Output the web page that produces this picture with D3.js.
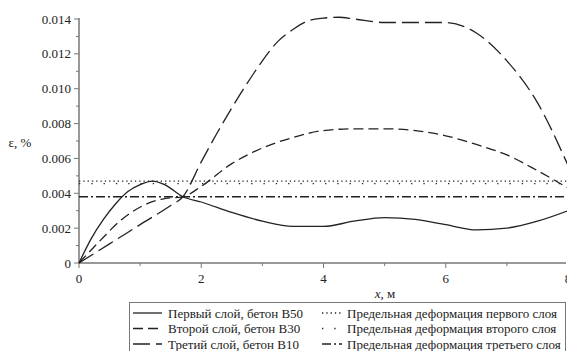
<!DOCTYPE html>
<html>
<head>
<meta charset="utf-8">
<script src="https://cdn.jsdelivr.net/npm/d3@7"></script>
<style>
  body { margin: 0; background: #fff; }
  svg text { font-family: 'Liberation Serif', 'DejaVu Serif', serif; }
</style>
</head>
<body>
<svg id="chart" width="567" height="351"></svg>
<script>
// x, м
var xFirst = [0, 0.2, 0.4, 0.6, 0.8, 1.0, 1.2, 1.4, 1.7, 2.0, 2.5, 3.0, 3.5, 4.0, 4.5, 5.0, 5.5, 6.0, 6.5, 7.0, 7.5, 8.0];
var yFirst = [0, 0.0014, 0.0025, 0.0034, 0.0041, 0.0045, 0.0047, 0.0045, 0.0038, 0.0035, 0.0029, 0.0024, 0.0021, 0.0021, 0.0024, 0.0026, 0.0025, 0.0022, 0.0019, 0.0020, 0.0024, 0.0030];

var xSecond = [0, 0.35, 0.7, 1.05, 1.4, 1.7, 2.0, 2.5, 3.0, 3.5, 4.0, 4.5, 5.0, 5.5, 6.0, 6.5, 7.0, 7.5, 8.0];
var ySecond = [0, 0.0013, 0.0025, 0.0033, 0.0037, 0.0038, 0.0044, 0.0057, 0.0066, 0.0072, 0.0076, 0.0077, 0.0077, 0.0076, 0.0073, 0.0068, 0.0062, 0.0053, 0.0043];

var xThird = [0, 0.5, 1.0, 1.5, 1.7, 2.0, 2.25, 2.5, 2.75, 3.0, 3.25, 3.5, 3.75, 4.0, 4.25, 4.5, 5.0, 5.5, 6.0, 6.5, 7.0, 7.5, 8.0];
var yThird = [0, 0.0011, 0.0022, 0.0033, 0.0038, 0.0058, 0.0074, 0.0089, 0.0103, 0.0116, 0.0127, 0.0134, 0.0139, 0.01405, 0.0141, 0.0140, 0.0138, 0.0138, 0.0138, 0.0132, 0.0116, 0.0092, 0.0056];

// предельные деформации
var limitValues = [0.0047, 0.00455, 0.0038];

var xTicks = [0, 2, 4, 6, 8];
var xMinorTicks = [1, 3, 5, 7];
var yTicks = [0, 0.002, 0.004, 0.006, 0.008, 0.010, 0.012, 0.014];
var yMinorTicks = [0.001, 0.003, 0.005, 0.007, 0.009, 0.011, 0.013];

var legendCurves = ['Первый слой, бетон B50', 'Второй слой, бетон B30', 'Третий слой, бетон B10'];
var legendLimits = ['Предельная деформация первого слоя', 'Предельная деформация второго слоя', 'Предельная деформация третьего слоя'];

var curveDash = [null, '10,5', '17,6'];
var limitDash = ['1.3,3', '1.3,11', '9,3,2,3'];

var svg = d3.select('#chart');
var x = d3.scaleLinear().domain([0, 8]).range([79, 568]);
var y = d3.scaleLinear().domain([0, 0.014]).range([263, 19]);
var axisColor = '#777';
var ink = '#222';
var serif = "'Liberation Serif', 'DejaVu Serif', serif";

// оси
var gx = svg.append('g').attr('transform', 'translate(0,263)');
gx.append('line').attr('x1', 79).attr('x2', 566).attr('stroke', axisColor).attr('stroke-width', 1.5);
gx.selectAll('.maj').data(xTicks).enter().append('line')
  .attr('x1', d => x(d)).attr('x2', d => x(d)).attr('y1', 0).attr('y2', 5)
  .attr('stroke', axisColor);
gx.selectAll('.min').data(xMinorTicks).enter().append('line')
  .attr('x1', d => x(d)).attr('x2', d => x(d)).attr('y1', 0).attr('y2', 3)
  .attr('stroke', axisColor);
gx.selectAll('text').data(xTicks).enter().append('text')
  .attr('x', d => x(d)).attr('y', 20)
  .attr('text-anchor', 'middle').attr('font-size', 13).attr('font-family', serif).attr('fill', ink)
  .text(d => d);

var gy = svg.append('g').attr('transform', 'translate(79,0)');
gy.append('line').attr('y1', 263).attr('y2', 18).attr('stroke', axisColor).attr('stroke-width', 1.5);
gy.selectAll('.maj').data(yTicks).enter().append('line')
  .attr('y1', d => y(d)).attr('y2', d => y(d)).attr('x1', 0).attr('x2', -5)
  .attr('stroke', axisColor);
gy.selectAll('.min').data(yMinorTicks).enter().append('line')
  .attr('y1', d => y(d)).attr('y2', d => y(d)).attr('x1', 0).attr('x2', -3)
  .attr('stroke', axisColor);
gy.selectAll('text').data(yTicks).enter().append('text')
  .attr('x', -8).attr('y', d => y(d) + 4.5)
  .attr('text-anchor', 'end').attr('font-size', 13).attr('font-family', serif).attr('fill', ink)
  .text(d => d === 0 ? '0' : d3.format('.3f')(d));

svg.append('text').attr('x', 20).attr('y', 147).attr('text-anchor', 'middle')
   .attr('font-size', 13).attr('font-family', serif).attr('fill', ink).text('ε, %');

var xl = svg.append('text').attr('x', 385).attr('y', 298).attr('text-anchor', 'middle')
   .attr('font-size', 13).attr('font-family', serif).attr('fill', ink);
xl.append('tspan').attr('font-style', 'italic').text('x');
xl.append('tspan').text(', м');

// предельные линии
svg.selectAll('.limit').data(limitValues).enter().append('line')
   .attr('x1', x(0)).attr('x2', x(8))
   .attr('y1', d => y(d)).attr('y2', d => y(d))
   .attr('stroke', ink).attr('stroke-width', 1.3)
   .attr('stroke-dasharray', (d, i) => limitDash[i]);

// кривые
var line = d3.line().curve(d3.curveMonotoneX);
var series = [
  d3.zip(xFirst, yFirst),
  d3.zip(xSecond, ySecond),
  d3.zip(xThird, yThird)
];
series.forEach(function(s, i) {
  svg.append('path')
     .attr('d', line(s.map(p => [x(p[0]), y(p[1])])))
     .attr('fill', 'none').attr('stroke', ink).attr('stroke-width', 1.3)
     .attr('stroke-dasharray', curveDash[i]);
});

// легенда
var lg = svg.append('g');
lg.append('rect').attr('x', 129.5).attr('y', 302.5).attr('width', 436).attr('height', 49)
  .attr('fill', 'none').attr('stroke', axisColor);
legendCurves.forEach(function(t, i) {
  var yy = 313 + i * 15.5;
  lg.append('line').attr('x1', 133).attr('x2', 162).attr('y1', yy).attr('y2', yy)
    .attr('stroke', ink).attr('stroke-width', 1.3).attr('stroke-dasharray', curveDash[i]);
  lg.append('text').attr('x', 168).attr('y', yy + 4.5).attr('font-size', 13).attr('font-family', serif).attr('fill', ink).text(t);
  lg.append('line').attr('x1', 322).attr('x2', 342).attr('y1', yy).attr('y2', yy)
    .attr('stroke', ink).attr('stroke-width', 1.3).attr('stroke-dasharray', limitDash[i]);
  lg.append('text').attr('x', 347).attr('y', yy + 4.5).attr('font-size', 13).attr('font-family', serif).attr('fill', ink).text(legendLimits[i]);
});
</script>
</body>
</html>
